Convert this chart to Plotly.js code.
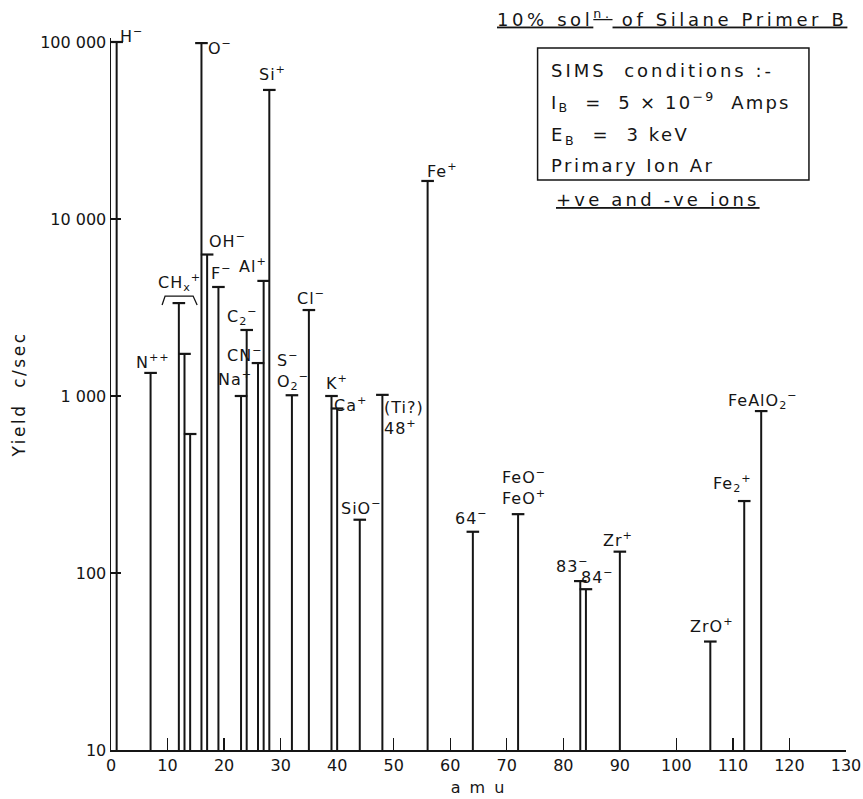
<!DOCTYPE html>
<html><head><meta charset="utf-8">
<script src="https://cdn.plot.ly/plotly-3.0.1.min.js"></script>
<style>html,body{margin:0;padding:0;background:#fff}</style>
</head><body>
<div id="chart" style="width:863px;height:799px"></div>
<script>
// ---- data ----
const peakAmu   = [1, 7, 12, 13, 14, 16, 17, 19, 23, 24, 26, 27, 28, 32, 35, 39, 40, 44, 48, 56, 64, 72, 83, 84, 90, 106, 112, 115];
const peakYield = [100000, 1350, 3350, 1730, 610, 98600, 6300, 4130, 1000, 2360, 1535, 4470, 53600, 1010, 3060, 1000, 850, 200, 1015, 16400, 171, 215, 90, 81, 132, 41, 255, 822];
const peakLabel = ["H<sup>−</sup>", "N<sup>++</sup>", "CH<sub>x</sub><sup>+</sup>", "", "", "O<sup>−</sup>", "OH<sup>−</sup>", "F<sup>−</sup>",
  "Na<sup>+</sup>", "C<sub>2</sub><sup>−</sup>", "CN<sup>−</sup>", "Al<sup>+</sup>", "Si<sup>+</sup>", "S<sup>−</sup><br>O<sub>2</sub><sup>−</sup>",
  "Cl<sup>−</sup>", "K<sup>+</sup>", "Ca<sup>+</sup>", "SiO<sup>−</sup>", "(Ti?)<br>48<sup>+</sup>", "Fe<sup>+</sup>", "64<sup>−</sup>",
  "FeO<sup>−</sup><br>FeO<sup>+</sup>", "83<sup>−</sup>", "84<sup>−</sup>", "Zr<sup>+</sup>", "ZrO<sup>+</sup>", "Fe<sub>2</sub><sup>+</sup>", "FeAlO<sub>2</sub><sup>−</sup>"];
const xTickVals = [0, 10, 20, 30, 40, 50, 60, 70, 80, 90, 100, 110, 120, 130];
const yTickVals = [10, 100, 1000, 10000, 100000];
const yTickText = ["10", "100", "1 000", "10 000", "100 000"];
const baseYield = 10;

// ---- label placement (pixel offsets from each peak top) ----
const labelDx = [15, 2, 1, 0, 0, 19, 20, 3, -6, -4, -13, -11, 3, 1, 2, 5, 13, 2, 22, 15, -1, 6, -8, 12, -2, 2, -12, 2];
const labelDy = [-7, -11, -21, 0, 0, 4, -14, -14, -18, -13, -9, -15, -16, -24, -13, -14, -4, -12, 23, -10, -14, -27, -16, -13, -12, -16, -18, -11];

const ink = '#151515';
const FONT = 'DejaVu Sans, sans-serif';
const sp = (t, ls) => '<span style="letter-spacing:' + ls + 'px">' + t + '</span>';

const stemX = [], stemY = [];
peakAmu.forEach((a, i) => { stemX.push(a, a, null); stemY.push(baseYield, peakYield[i], null); });

const traces = [
  {x: stemX, y: stemY, mode: 'lines', line: {color: ink, width: 2}, hoverinfo: 'skip', showlegend: false},
  {x: peakAmu, y: peakYield, mode: 'markers', marker: {symbol: 'line-ew-open', size: 9, color: ink, line: {color: ink, width: 2.2}}, showlegend: false}
];

const annotations = [];
peakAmu.forEach((a, i) => {
  if (!peakLabel[i]) return;
  annotations.push({x: a, y: Math.log10(peakYield[i]), xref: 'x', yref: 'y', text: sp(peakLabel[i], 1), showarrow: false,
    xanchor: 'center', yanchor: 'middle', xshift: labelDx[i], yshift: -labelDy[i],
    font: {family: FONT, size: 16, color: ink}, align: 'left'});
});

annotations.push(
  {xref: 'paper', yref: 'paper', x: 1.004, y: 1.028, xanchor: 'right', yanchor: 'middle', showarrow: false,
   text: sp('10% sol<sup>n.</sup> of Silane Primer B', 3.6), font: {family: FONT, size: 18, color: ink, lineposition: 'under'}},
  {xref: 'paper', yref: 'paper', x: 0.5954, y: 0.955, xanchor: 'left', yanchor: 'middle', showarrow: false,
   text: sp('SIMS  conditions :-', 3), font: {family: FONT, size: 18, color: ink}},
  {xref: 'paper', yref: 'paper', x: 0.5954, y: 0.910, xanchor: 'left', yanchor: 'middle', showarrow: false,
   text: sp('I<sub>B</sub>  =  5 × 10<sup>−9</sup>  Amps', 2.2), font: {family: FONT, size: 18, color: ink}},
  {xref: 'paper', yref: 'paper', x: 0.5954, y: 0.8624, xanchor: 'left', yanchor: 'middle', showarrow: false,
   text: sp('E<sub>B</sub>  =  3 keV', 2.5), font: {family: FONT, size: 18, color: ink}},
  {xref: 'paper', yref: 'paper', x: 0.5954, y: 0.8216, xanchor: 'left', yanchor: 'middle', showarrow: false,
   text: sp('Primary Ion Ar', 2.5), font: {family: FONT, size: 18, color: ink}},
  {xref: 'paper', yref: 'paper', x: 0.6022, y: 0.7725, xanchor: 'left', yanchor: 'middle', showarrow: false,
   text: sp('+ve and -ve ions', 3.2), font: {family: FONT, size: 18, color: ink, lineposition: 'under'}}
);

const layout = {
  width: 863, height: 799,
  paper_bgcolor: '#fff', plot_bgcolor: '#fff',
  margin: {l: 111, r: 17, t: 38, b: 49},
  font: {family: FONT, color: ink},
  showlegend: false,
  xaxis: {range: [0, 130], tickvals: xTickVals, ticks: 'inside', ticklen: 12, tickwidth: 1.2, tickcolor: ink,
          showline: true, linecolor: ink, linewidth: 1.5, showgrid: false, zeroline: false,
          tickfont: {family: FONT, size: 16, color: ink},
          title: {text: sp('a m u', 2), font: {family: FONT, size: 16, color: ink}, standoff: 8}},
  yaxis: {type: 'log', range: [1, 5.0226], tickvals: yTickVals, ticktext: yTickText, ticks: 'inside', ticklen: 10,
          tickwidth: 1.2, tickcolor: ink, showline: true, linecolor: ink, linewidth: 1.5, showgrid: false, zeroline: false,
          tickfont: {family: FONT, size: 16, color: ink},
          title: {text: sp('Yield  c/sec', 2.5), font: {family: FONT, size: 17, color: ink}, standoff: 10}},
  shapes: [
    {type: 'rect', xref: 'paper', yref: 'paper', x0: 0.5804, x1: 0.9496, y0: 0.8006, y1: 0.9860,
     line: {color: ink, width: 1.5}, fillcolor: 'rgba(0,0,0,0)'},
    {type: 'path', xref: 'paper', yref: 'paper', path: 'M 0.0695 0.625 L 0.0736 0.6376 L 0.1117 0.6376 L 0.1172 0.625',
     line: {color: ink, width: 1.3}}
  ],
  annotations: annotations
};

Plotly.newPlot('chart', traces, layout, {displayModeBar: false, staticPlot: true});
</script>
</body></html>
